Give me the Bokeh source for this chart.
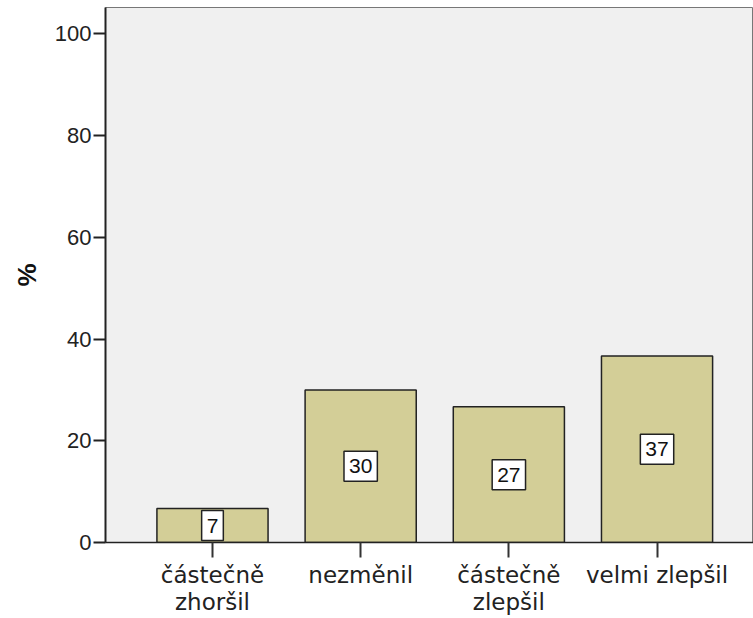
from bokeh.plotting import figure
from bokeh.models import Range1d, FixedTicker, ColumnDataSource
from bokeh.core.properties import value
from bokeh.embed import file_html
from bokeh.resources import INLINE

# data
categories = ["částečně\nzhoršil", "nezměnil", "částečně\nzlepšil", "velmi zlepšil"]
positions = [1, 2, 3, 4]
percent = [6.67, 30.0, 26.67, 36.67]
bar_labels = ["7", "30", "27", "37"]
y_ticks = [0, 20, 40, 60, 80, 100]

src = ColumnDataSource(data=dict(
    x=positions,
    pct=percent,
    mid=[v / 2 for v in percent],
    label=bar_labels,
))

p = figure(width=753, height=618,
           x_range=Range1d(0.278, 4.651), y_range=Range1d(0, 105.2),
           output_backend="svg", toolbar_location=None,
           min_border_left=105, min_border_right=0,
           min_border_top=7, min_border_bottom=76)

p.background_fill_color = "#f0f0f0"
p.border_fill_color = "white"
p.outline_line_color = "#777777"
p.outline_line_width = 1
p.xgrid.visible = False
p.ygrid.visible = False

p.vbar(x="x", top="pct", width=0.75, source=src,
       fill_color="#d3ce97", line_color="#222222", line_width=1.5)

p.text(x="x", y="mid", text="label", source=src,
       text_align="center", text_baseline="middle",
       text_font=value("Liberation Sans"), text_font_size="21px",
       text_color="#111111",
       background_fill_color="white", border_line_color="#222222",
       border_line_width=1.5,
       padding=dict(left=5, right=5, top=8, bottom=8))

# y axis
ya = p.yaxis[0]
ya.ticker = FixedTicker(ticks=y_ticks)
ya.axis_label = "%"
ya.axis_label_text_font = "Liberation Sans"
ya.axis_label_text_font_style = "bold"
ya.axis_label_text_font_size = "26px"
ya.axis_label_text_color = "#111111"
ya.axis_label_standoff = 10
ya.major_label_text_font = "Liberation Sans"
ya.major_label_text_font_size = "22px"
ya.major_label_text_color = "#222222"
ya.major_label_standoff = 2
ya.major_tick_out = 12
ya.major_tick_in = 0
ya.minor_tick_out = 0
ya.minor_tick_in = 0
ya.axis_line_color = "#222222"
ya.axis_line_width = 2
ya.major_tick_line_color = "#222222"
ya.major_tick_line_width = 2

# x axis
xa = p.xaxis[0]
xa.ticker = FixedTicker(ticks=positions)
xa.major_label_overrides = dict(zip(positions, categories))
xa.major_label_text_font = "DejaVu Sans"
xa.major_label_text_font_size = "23px"
xa.major_label_text_color = "#222222"
xa.major_label_text_line_height = 1.05
xa.major_label_standoff = 4
xa.major_tick_out = 15
xa.major_tick_in = 0
xa.minor_tick_out = 0
xa.minor_tick_in = 0
xa.axis_line_color = "#222222"
xa.axis_line_width = 1.5
xa.major_tick_line_color = "#333333"
xa.major_tick_line_width = 2

open("out.html", "w").write(file_html(p, INLINE))
